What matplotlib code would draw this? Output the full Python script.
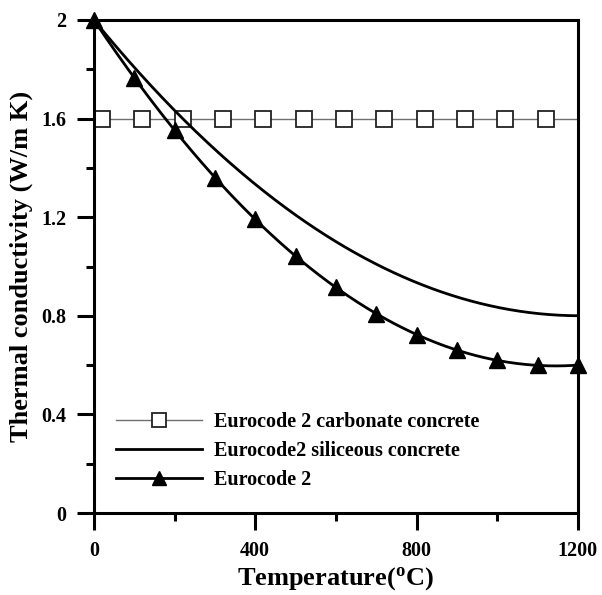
import matplotlib
matplotlib.use("Agg")
import matplotlib.pyplot as plt
import numpy as np

# ---- data ----
carb_T = [20, 120, 220, 320, 420, 520, 620, 720, 820, 920, 1020, 1120, 1200]
carb_k = [1.6, 1.6, 1.6, 1.6, 1.6, 1.6, 1.6, 1.6, 1.6, 1.6, 1.6, 1.6, 1.6]

sil_T = [0, 100, 200, 300, 400, 500, 600, 700, 800, 900, 1000, 1100, 1200]
sil_k = [2.0, 1.81, 1.63, 1.475, 1.335, 1.21, 1.10, 1.01, 0.935, 0.875, 0.835, 0.81, 0.80]

ec2_T = [0, 100, 200, 300, 400, 500, 600, 700, 800, 900, 1000, 1100, 1200]
ec2_k = [2.0, 1.766, 1.553, 1.361, 1.191, 1.042, 0.915, 0.809, 0.724, 0.661, 0.619, 0.599, 0.600]

labels = ["Eurocode 2 carbonate concrete", "Eurocode2 siliceous concrete", "Eurocode 2"]
xticks = [0, 400, 800, 1200]
yticks = [0, 0.4, 0.8, 1.2, 1.6, 2.0]
yticklabels = ["0", "0.4", "0.8", "1.2", "1.6", "2"]

plt.rcParams['font.family'] = ['Liberation Serif', 'DejaVu Serif']
plt.rcParams['font.weight'] = 'bold'
plt.rcParams['mathtext.fontset'] = 'custom'
plt.rcParams['mathtext.rm'] = 'Liberation Serif:bold'
plt.rcParams['mathtext.bf'] = 'Liberation Serif:bold'
plt.rcParams['mathtext.it'] = 'Liberation Serif:bold'

fig = plt.figure(figsize=(6.02, 5.95), dpi=100)
ax = fig.add_axes([0.156, 0.1378, 0.804, 0.8286])

# smooth curves for the two Eurocode lines
def smooth(xs, ys, n=300):
    xs = np.asarray(xs, float); ys = np.asarray(ys, float)
    c = np.polyfit(xs, ys, 3)
    xx = np.linspace(xs.min(), xs.max(), n)
    return xx, np.polyval(c, xx)

l1, = ax.plot(carb_T, carb_k, color='#707070', lw=1.0, marker='s', markersize=12,
              markerfacecolor='white', markeredgecolor='#222222', markeredgewidth=1.3,
              markevery=list(range(len(carb_T) - 1)), label=labels[0])
sx, sy = smooth(sil_T, sil_k)
l2, = ax.plot(sx, sy, color='black', lw=2.0, label=labels[1])
ex, ey = smooth(ec2_T, ec2_k)
ax.plot(ex, ey, color='black', lw=2.0)
ax.plot(ec2_T, ec2_k, linestyle='none', marker='^', markersize=11, color='black', clip_on=False)
l3, = ax.plot([], [], color='black', lw=2.0, marker='^', markersize=12, label=labels[2])

ax.set_xlim(0, 1200)
ax.set_ylim(0, 2)
ax.set_xticks(xticks)
ax.set_xticks([200, 600, 1000], minor=True)
ax.set_yticks(yticks)
ax.set_yticklabels(yticklabels)
ax.set_yticks([0.2, 0.6, 1.0, 1.4, 1.8], minor=True)

for s in ax.spines.values():
    s.set_linewidth(2.2)
ax.tick_params(which='major', direction='out', length=12, width=2.2, labelsize=14.5, pad=8,
               top=False, right=False)
ax.tick_params(which='minor', direction='out', length=6, width=2.2, top=False, right=False)
for t in ax.get_xticklabels() + ax.get_yticklabels():
    t.set_fontweight('bold')

ax.set_xlabel(r"Temperature($^{\mathrm{o}}$C)", fontsize=19, fontweight='bold', labelpad=3)
ax.set_ylabel("Thermal conductivity (W/m K)", fontsize=19, fontweight='bold', labelpad=6)

leg = ax.legend(handles=[l1, l2, l3], loc='upper left', bbox_to_anchor=(0.045, 0.205),
                frameon=False, handlelength=4.3, handletextpad=0.6,
                labelspacing=0.45, borderpad=0, borderaxespad=0, markerscale=0.85,
                prop={'weight': 'bold', 'size': 14.5})

fig.savefig("out.png", dpi=100)
